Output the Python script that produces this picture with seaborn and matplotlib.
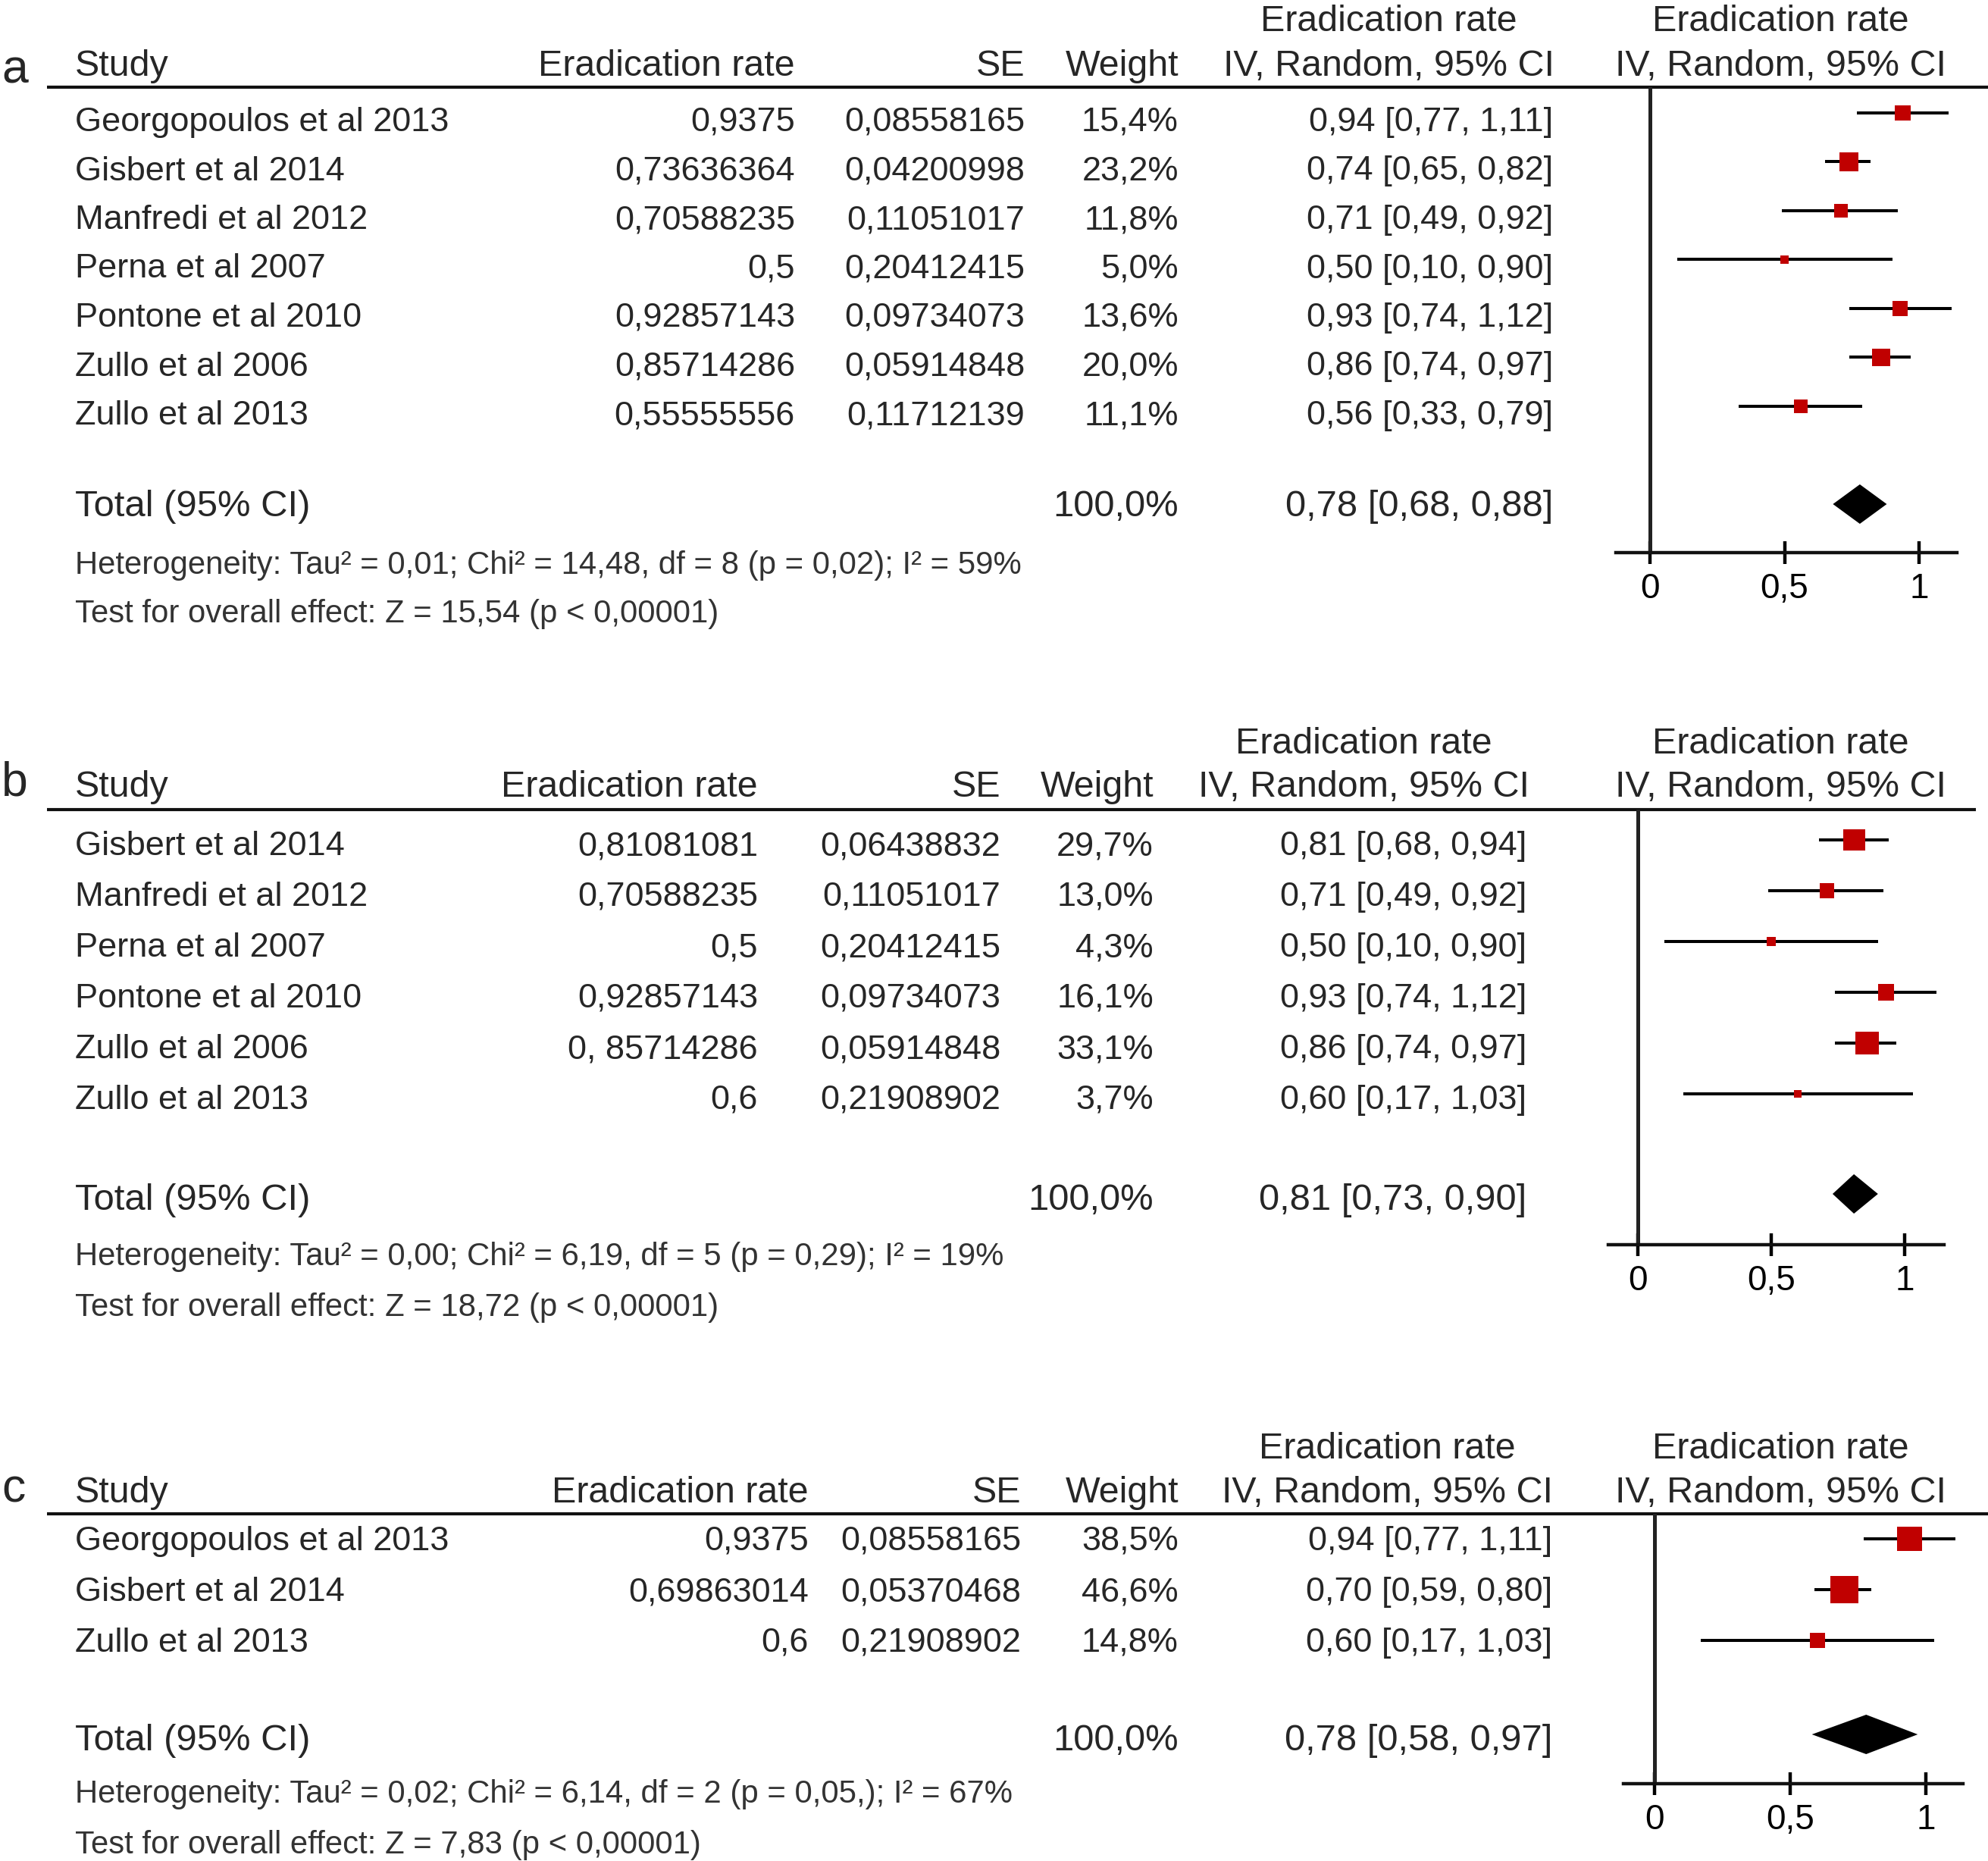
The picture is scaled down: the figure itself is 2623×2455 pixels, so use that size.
import numpy as np
import matplotlib
matplotlib.use("Agg")
import matplotlib.pyplot as plt
import seaborn as sns

# =========================================
# DATA (panel a)
# =========================================

studies_a = ["Georgopoulos et al 2013", "Gisbert et al 2014", "Manfredi et al 2012",
             "Perna et al 2007", "Pontone et al 2010", "Zullo et al 2006", "Zullo et al 2013"]
rate_a = ["0,9375", "0,73636364", "0,70588235", "0,5", "0,92857143", "0,85714286", "0,55555556"]
se_a = ["0,08558165", "0,04200998", "0,11051017", "0,20412415", "0,09734073", "0,05914848", "0,11712139"]
weight_a = [15.4, 23.2, 11.8, 5.0, 13.6, 20.0, 11.1]
est_a = [0.94, 0.74, 0.71, 0.50, 0.93, 0.86, 0.56]
lo_a = [0.77, 0.65, 0.49, 0.10, 0.74, 0.74, 0.33]
hi_a = [1.11, 0.82, 0.92, 0.90, 1.12, 0.97, 0.79]
total_a = [0.78, 0.68, 0.88]
het_a = "Heterogeneity: Tau² = 0,01; Chi² = 14,48, df = 8 (p = 0,02); I² = 59%"
test_a = "Test for overall effect: Z = 15,54 (p < 0,00001)"

# =========================================
# DATA (panel b)
# =========================================

studies_b = ["Gisbert et al 2014", "Manfredi et al 2012", "Perna et al 2007",
             "Pontone et al 2010", "Zullo et al 2006", "Zullo et al 2013"]
rate_b = ["0,81081081", "0,70588235", "0,5", "0,92857143", "0, 85714286", "0,6"]
se_b = ["0,06438832", "0,11051017", "0,20412415", "0,09734073", "0,05914848", "0,21908902"]
weight_b = [29.7, 13.0, 4.3, 16.1, 33.1, 3.7]
est_b = [0.81, 0.71, 0.50, 0.93, 0.86, 0.60]
lo_b = [0.68, 0.49, 0.10, 0.74, 0.74, 0.17]
hi_b = [0.94, 0.92, 0.90, 1.12, 0.97, 1.03]
total_b = [0.81, 0.73, 0.90]
het_b = "Heterogeneity: Tau² = 0,00; Chi² = 6,19, df = 5 (p = 0,29); I² = 19%"
test_b = "Test for overall effect: Z = 18,72 (p < 0,00001)"

# =========================================
# DATA (panel c)
# =========================================

studies_c = ["Georgopoulos et al 2013", "Gisbert et al 2014", "Zullo et al 2013"]
rate_c = ["0,9375", "0,69863014", "0,6"]
se_c = ["0,08558165", "0,05370468", "0,21908902"]
weight_c = [38.5, 46.6, 14.8]
est_c = [0.94, 0.70, 0.60]
lo_c = [0.77, 0.59, 0.17]
hi_c = [1.11, 0.80, 1.03]
total_c = [0.78, 0.58, 0.97]
het_c = "Heterogeneity: Tau² = 0,02; Chi² = 6,14, df = 2 (p = 0,05,); I² = 67%"
test_c = "Test for overall effect: Z = 7,83 (p < 0,00001)"

tick_vals = [0, 0.5, 1]
tick_labels = ["0", "0,5", "1"]

# =========================================
# LAYOUT (pixel positions of each panel)
# =========================================

layout_a = dict(label_y=109, head1=41, head2=100, hline=115, line_end=2623,
                row0=173, step=64.5, total=681, het=757, test=821,
                axis_y=729, x0=2177, x1=2532, ax_l=2132, ax_r=2582,
                c_rate=1049, c_se=1352, c_w=1555, c_ci=2049, c_mid=1832,
                shift=-24, dshift=-16)
layout_b = dict(label_y=1050, head1=994, head2=1051, hline=1068, line_end=2607,
                row0=1128, step=67, total=1596, het=1669, test=1736,
                axis_y=1642, x0=2161, x1=2513, ax_l=2122, ax_r=2565,
                c_rate=1000, c_se=1320, c_w=1522, c_ci=2014, c_mid=1799,
                shift=-20, dshift=-21)
layout_c = dict(label_y=1982, head1=1924, head2=1982, hline=1997, line_end=2623,
                row0=2045, step=67, total=2309, het=2378, test=2445,
                axis_y=2353, x0=2183, x1=2541, ax_l=2142, ax_r=2590,
                c_rate=1067, c_se=1347, c_w=1555, c_ci=2048, c_mid=1830,
                shift=-15, dshift=-21)

sns.set_theme(style="white")
plt.rcParams["font.family"] = ["Liberation Sans", "DejaVu Sans"]

W, H = 2623, 2455
fig = plt.figure(figsize=(W / 100, H / 100), dpi=100)
bg = fig.add_axes([0, 0, 1, 1])
bg.set_xlim(0, W)
bg.set_ylim(H, 0)
bg.axis("off")

ROW_FS = 32.5
HEAD_FS = 34.8
TOTAL_FS = 35.3
NOTE_FS = 30.2
RED = "#C00000"


def comma(v, nd=2):
    return f"{v:.{nd}f}".replace(".", ",")


def ci_text(e, l, h):
    return f"{comma(e)} [{comma(l)}, {comma(h)}]"


def draw_panel(label, studies, rates, ses, weights, est, lo, hi, total, het, test, L):
    n = len(studies)
    ys = L["row0"] + L["step"] * np.arange(n)

    # --- table text ---
    bg.text(2, L["label_y"], label, fontsize=45, va="baseline")
    bg.text(99, L["head2"], "Study", fontsize=HEAD_FS, va="baseline")
    bg.text(L["c_rate"], L["head2"], "Eradication rate", fontsize=HEAD_FS, ha="right", va="baseline")
    bg.text(L["c_se"], L["head2"], "SE", fontsize=HEAD_FS, ha="right", va="baseline")
    bg.text(L["c_w"], L["head2"], "Weight", fontsize=HEAD_FS, ha="right", va="baseline")
    for cx in (L["c_mid"], 2349):
        bg.text(cx, L["head1"], "Eradication rate", fontsize=HEAD_FS, ha="center", va="baseline")
        bg.text(cx, L["head2"], "IV, Random, 95% CI", fontsize=HEAD_FS, ha="center", va="baseline")
    bg.plot([62, L["line_end"]], [L["hline"], L["hline"]], color="#111111", lw=3,
            solid_capstyle="butt")

    for i in range(n):
        y = ys[i]
        bg.text(99, y, studies[i], fontsize=ROW_FS, va="baseline")
        bg.text(L["c_rate"], y, rates[i], fontsize=ROW_FS, ha="right", va="baseline")
        bg.text(L["c_se"], y, ses[i], fontsize=ROW_FS, ha="right", va="baseline")
        bg.text(L["c_w"], y, comma(weights[i], 1) + "%", fontsize=ROW_FS, ha="right", va="baseline")
        bg.text(L["c_ci"], y, ci_text(est[i], lo[i], hi[i]), fontsize=ROW_FS, ha="right", va="baseline")

    bg.text(99, L["total"], "Total (95% CI)", fontsize=TOTAL_FS, va="baseline")
    bg.text(L["c_w"], L["total"], "100,0%", fontsize=TOTAL_FS, ha="right", va="baseline")
    bg.text(L["c_ci"], L["total"], ci_text(*total), fontsize=TOTAL_FS, ha="right", va="baseline")
    bg.text(99, L["het"], het, fontsize=NOTE_FS, color="#333333", va="baseline")
    bg.text(99, L["test"], test, fontsize=NOTE_FS, color="#333333", va="baseline")

    # --- forest plot ---
    x0, x1 = L["x0"], L["x1"]
    ax = fig.add_axes([L["ax_l"] / W, 1 - L["axis_y"] / H,
                       (L["ax_r"] - L["ax_l"]) / W, (L["axis_y"] - L["hline"]) / H])
    ax.set_facecolor("none")

    my = ys + L["shift"]
    ax.axvline(0, color="#222222", lw=3.6, zorder=1)
    ax.hlines(my, lo, hi, color="black", lw=2.9, zorder=2)
    sns.scatterplot(x=est, y=my, size=weights, sizes=(0, 1460), size_norm=(0, 100),
                    marker="s", color=RED, linewidth=0, legend=False, ax=ax, zorder=3)

    te, tl, th = total
    ty = L["total"] + L["dshift"]
    ax.fill([tl, te, th, te], [ty, ty - 26, ty, ty + 26], color="black", lw=0, zorder=3)

    ax.set_xlim((L["ax_l"] - x0) / (x1 - x0), (L["ax_r"] - x0) / (x1 - x0))
    ax.set_ylim(L["axis_y"], L["hline"])
    ax.set_xticks(tick_vals)
    ax.set_xticklabels(tick_labels)
    ax.set_yticks([])
    ax.tick_params(axis="x", bottom=True, direction="inout", length=22, width=3.2,
                   labelsize=33, pad=8, colors="black")
    for s in ["left", "top", "right"]:
        ax.spines[s].set_visible(False)
    ax.spines["bottom"].set_linewidth(3.2)
    ax.spines["bottom"].set_color("#111111")
    ax.set_xlabel("")
    ax.set_ylabel("")


draw_panel("a", studies_a, rate_a, se_a, weight_a, est_a, lo_a, hi_a, total_a, het_a, test_a, layout_a)
draw_panel("b", studies_b, rate_b, se_b, weight_b, est_b, lo_b, hi_b, total_b, het_b, test_b, layout_b)
draw_panel("c", studies_c, rate_c, se_c, weight_c, est_c, lo_c, hi_c, total_c, het_c, test_c, layout_c)

fig.savefig("out.png", dpi=100, facecolor="white")
